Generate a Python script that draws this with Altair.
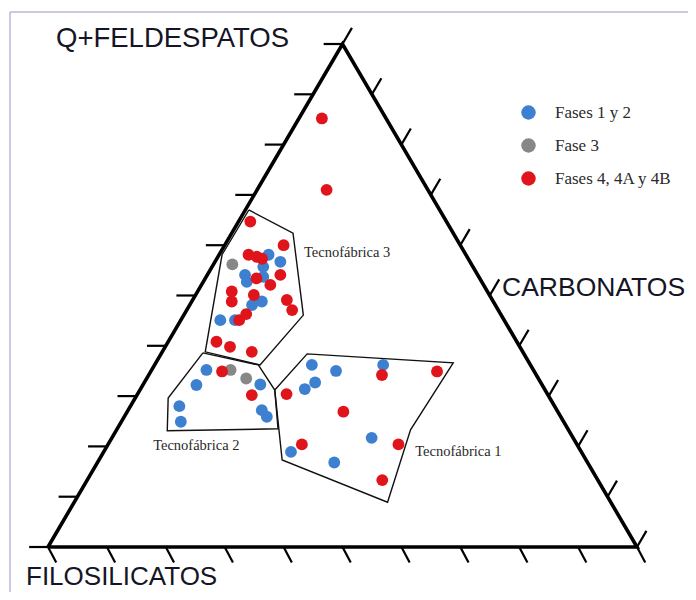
import altair as alt
import pandas as pd

# ---- Data: ternary compositions in % (Q = Q+Feldespatos, C = Carbonatos, F = 100 - Q - C)
fases = ["Fases 1 y 2", "Fase 3", "Fases  4, 4A y 4B"]
colores = ["#3d80d0", "#878787", "#e0141b"]

blue_q = [58.1, 56.7, 55.7, 54.1, 52.7, 53.7, 48.8, 48.1, 45.1, 45.1,
          35.2, 32.3, 32.2, 28.0, 24.9, 27.2, 25.9,
          36.2, 35.0, 36.2, 31.4, 32.7, 21.7, 18.9, 16.8]
blue_c = [8.4, 11.1, 8.7, 6.4, 7.4, 9.7, 11.9, 10.6, 6.7, 9.2,
          9.3, 19.9, 9.1, 8.3, 10.1, 22.7, 24.2,
          26.7, 31.4, 38.8, 27.9, 29.0, 44.1, 31.8, 40.2]

grey_q = [56.2, 35.2, 33.5]
grey_c = [3.2, 13.4, 16.9]

red_q = [85.2, 71.0, 64.7, 60.0, 58.1, 57.7, 57.3, 53.4, 54.1, 52.1,
         50.8, 48.8, 50.1, 49.1, 47.1, 45.1, 46.3, 40.8, 39.8, 38.8,
         34.9, 30.2, 34.2, 34.9, 30.4, 26.9, 20.4, 20.4, 13.3]
red_c = [3.9, 11.8, 2.0, 10.0, 5.0, 6.6, 7.7, 8.7, 12.4, 11.7,
         5.8, 6.8, 9.9, 16.0, 17.9, 9.9, 10.5, 8.2, 11.0, 15.2,
         12.1, 19.5, 39.6, 48.6, 25.3, 36.7, 49.3, 32.9, 50.1]

# Tecnofábrica fields (polygon vertices as compositions)
t1_q = [31.2, 38.4, 36.6, 23.3, 8.9, 17.3]
t1_c = [22.9, 24.8, 50.5, 49.9, 53.2, 31.1]
t2_q = [38.6, 36.2, 31.2, 23.5, 23.1, 29.6]
t2_c = [7.0, 17.6, 22.9, 27.3, 8.7, 5.6]
t3_q = [67.0, 62.4, 46.1, 36.2, 38.8, 58.1]
t3_c = [0.6, 10.4, 20.3, 17.9, 7.3, 0.5]

campo_nombres = ["Tecnofábrica 1", "Tecnofábrica 2", "Tecnofábrica 3"]
campo_label_q = [18.1, 19.3, 57.7]
campo_label_c = [53.3, 8.2, 14.6]

tick_values = list(range(0, 101, 10))

# ---- layout constants (pixel mapping of the plot)
W, H = 680, 584
PX_X0, PX_PER = 40.0, 5.89
PY_Q0, PY_PER = 539.0, 5.03
XDOM = [-PX_X0 / PX_PER, (W - PX_X0) / PX_PER]
YDOM = [-(H - PY_Q0) / PY_PER, PY_Q0 / PY_PER]

XS = alt.Scale(domain=XDOM, nice=False, zero=False)
YS = alt.Scale(domain=YDOM, nice=False, zero=False)
X = alt.X("x:Q", scale=XS, axis=None)
Y = alt.Y("y:Q", scale=YS, axis=None)

# ---- tables
pts = pd.DataFrame({
    "fase": [fases[0]] * len(blue_q) + [fases[1]] * len(grey_q) + [fases[2]] * len(red_q),
    "Q": blue_q + grey_q + red_q,
    "C": blue_c + grey_c + red_c,
})

tri = pd.DataFrame({"Q": [0, 100, 0, 0], "C": [0, 0, 100, 0], "o": [0, 1, 2, 3]})

poly_rows = []
for name, qs, cs in [("T1", t1_q, t1_c), ("T2", t2_q, t2_c), ("T3", t3_q, t3_c)]:
    for i, (q, c) in enumerate(list(zip(qs, cs)) + [(qs[0], cs[0])]):
        poly_rows.append({"name": name, "Q": q, "C": c, "o": i})
polys = pd.DataFrame(poly_rows)

labels = pd.DataFrame({"t": campo_nombres, "Q": campo_label_q, "C": campo_label_c})
ticks = pd.DataFrame({"v": tick_values})

# ---- layers
frame_left = alt.Chart(pd.DataFrame({"a": [0]})).mark_rule(color="#b9b9d6", strokeWidth=1.5).encode(
    x=alt.value(2), y=alt.value(4), y2=alt.value(H))
frame_top = alt.Chart(pd.DataFrame({"a": [0]})).mark_rule(color="#b9b9d6", strokeWidth=1.5).encode(
    x=alt.value(2), x2=alt.value(W), y=alt.value(4))

tick_style = dict(color="black", strokeWidth=2.2)
ticks_left = alt.Chart(ticks).transform_calculate(
    x="datum.v / 2", y="datum.v", x2="datum.v / 2 - 3.2", y2="datum.v"
).mark_rule(**tick_style).encode(x=X, y=Y, x2="x2:Q", y2="y2:Q")
ticks_bottom = alt.Chart(ticks).transform_calculate(
    x="datum.v", y="0", x2="datum.v + 1.4", y2="-3.1"
).mark_rule(**tick_style).encode(x=X, y=Y, x2="x2:Q", y2="y2:Q")
ticks_right = alt.Chart(ticks).transform_calculate(
    x="50 + datum.v / 2", y="100 - datum.v", x2="50 + datum.v / 2 + 1.6", y2="100 - datum.v + 3.2"
).mark_rule(**tick_style).encode(x=X, y=Y, x2="x2:Q", y2="y2:Q")

triangle = alt.Chart(tri).transform_calculate(
    x="datum.C + datum.Q / 2", y="datum.Q"
).mark_line(color="black", strokeWidth=3.6, strokeJoin="miter").encode(x=X, y=Y, order="o:O")

fields = alt.Chart(polys).transform_calculate(
    x="datum.C + datum.Q / 2", y="datum.Q"
).mark_line(color="#111111", strokeWidth=1.4).encode(x=X, y=Y, detail="name:N", order="o:O")

points = alt.Chart(pts).transform_calculate(
    x="datum.C + datum.Q / 2", y="datum.Q"
).mark_circle(size=140, opacity=1).encode(
    x=X, y=Y,
    color=alt.Color("fase:N", scale=alt.Scale(domain=fases, range=colores),
                    legend=alt.Legend(title=None, orient="none", legendX=512, legendY=96,
                                      symbolType="circle", symbolSize=210, symbolStrokeWidth=0,
                                      symbolOpacity=1, labelFont="Liberation Serif",
                                      labelFontSize=17, labelColor="#2a2a2a",
                                      labelOffset=18, rowPadding=15)),
)

field_labels = alt.Chart(labels).transform_calculate(
    x="datum.C + datum.Q / 2", y="datum.Q"
).mark_text(align="left", baseline="alphabetic", font="Liberation Serif", fontSize=14.5,
            color="#2a2a2a").encode(x=X, y=Y, text="t:N")

title_style = dict(align="left", baseline="alphabetic", font="Liberation Sans",
                   color="#151525")
one = pd.DataFrame({"a": [0]})
t_q = alt.Chart(one).mark_text(fontSize=27.5, **title_style).encode(
    x=alt.value(48), y=alt.value(38.7), text=alt.value("Q+FELDESPATOS"))
t_c = alt.Chart(one).mark_text(fontSize=26.5, **title_style).encode(
    x=alt.value(494), y=alt.value(288), text=alt.value("CARBONATOS"))
t_f = alt.Chart(one).mark_text(fontSize=26, **title_style).encode(
    x=alt.value(18), y=alt.value(577), text=alt.value("FILOSILICATOS"))

chart = alt.layer(
    frame_left, frame_top, ticks_left, ticks_bottom, ticks_right, triangle, fields,
    points, field_labels, t_q, t_c, t_f
).properties(
    width=W, height=H,
    autosize=alt.AutoSizeParams(type="none"),
    padding={"left": 0, "top": 0, "right": 0, "bottom": 0},
    background="white",
).configure_view(stroke=None)

chart.save("out.html", embed_options={"renderer": "svg", "actions": False})
